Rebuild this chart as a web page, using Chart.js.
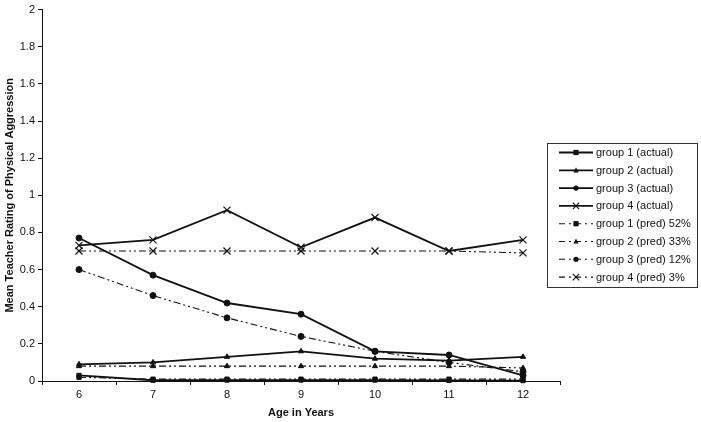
<!DOCTYPE html>
<html>
<head>
<meta charset="utf-8">
<script src="https://cdn.jsdelivr.net/npm/chart.js@4/dist/chart.umd.min.js"></script>
<style>
html, body { margin: 0; background: #fff; }
canvas { display: block; }
</style>
</head>
<body>
<canvas id="aggChart" width="701" height="422"></canvas>
<script>
// ages on the x axis
const ages = ["6", "7", "8", "9", "10", "11", "12"]

// observed group means
const g1Actual = [0.03, 0.004, 0.005, 0.005, 0.005, 0.003, 0.002]
const g2Actual = [0.09, 0.10, 0.13, 0.16, 0.12, 0.11, 0.13]
const g3Actual = [0.77, 0.57, 0.42, 0.36, 0.16, 0.14, 0.03]
const g4Actual = [0.73, 0.76, 0.92, 0.72, 0.88, 0.70, 0.76]

// model predicted trajectories
const g1Pred = [0.02, 0.01, 0.01, 0.01, 0.01, 0.01, 0.01]
const g2Pred = [0.08, 0.08, 0.08, 0.08, 0.08, 0.08, 0.07]
const g3Pred = [0.60, 0.46, 0.34, 0.24, 0.16, 0.10, 0.05]
const g4Pred = [0.70, 0.70, 0.70, 0.70, 0.70, 0.70, 0.69]

const seriesNames = [
    "group 1 (actual)", "group 2 (actual)", "group 3 (actual)", "group 4 (actual)",
    "group 1 (pred) 52%", "group 2 (pred) 33%", "group 3 (pred) 12%", "group 4 (pred) 3%"
]

const FONT = "'Liberation Sans', Arial, sans-serif"
const INK = "#111"
const PRED_DASH = [7, 3, 2, 3, 2, 3]

function makeSet(label, data, marker, pred) {
    return {
        label,
        data,
        borderColor: INK,
        backgroundColor: INK,
        borderWidth: pred ? 1.1 : 1.8,
        borderDash: pred ? PRED_DASH : [],
        pointStyle: marker,
        pointRadius: marker === "crossRot" ? 5 : 3,
        pointBorderColor: INK,
        pointBackgroundColor: INK,
        pointBorderWidth: marker === "crossRot" ? 1.2 : 1,
        tension: 0,
        clip: false
    }
}

const datasets = [
    makeSet(seriesNames[0], g1Actual, "rect", false),
    makeSet(seriesNames[1], g2Actual, "triangle", false),
    makeSet(seriesNames[2], g3Actual, "circle", false),
    makeSet(seriesNames[3], g4Actual, "crossRot", false),
    makeSet(seriesNames[4], g1Pred, "rect", true),
    makeSet(seriesNames[5], g2Pred, "triangle", true),
    makeSet(seriesNames[6], g3Pred, "circle", true),
    makeSet(seriesNames[7], g4Pred, "crossRot", true)
]

function drawMarker(ctx, style, x, y, r) {
    ctx.save()
    ctx.setLineDash([])
    ctx.fillStyle = INK
    ctx.strokeStyle = INK
    ctx.lineWidth = 1.1
    ctx.beginPath()
    if (style === "rect") {
        ctx.rect(x - r, y - r, r * 2, r * 2)
        ctx.fill()
    } else if (style === "triangle") {
        ctx.moveTo(x, y - r - 0.5)
        ctx.lineTo(x + r, y + r * 0.8)
        ctx.lineTo(x - r, y + r * 0.8)
        ctx.closePath()
        ctx.fill()
    } else if (style === "circle") {
        ctx.arc(x, y, r, 0, Math.PI * 2)
        ctx.fill()
    } else {
        const d = 3.2
        ctx.moveTo(x - d, y - d); ctx.lineTo(x + d, y + d)
        ctx.moveTo(x + d, y - d); ctx.lineTo(x - d, y + d)
        ctx.stroke()
    }
    ctx.restore()
}

// excel style boxed legend drawn at the right
const boxLegend = {
    id: "boxLegend",
    afterDraw(chart) {
        const ctx = chart.ctx
        const left = 547, top = 143, right = 697, bottom = 287
        ctx.save()
        ctx.strokeStyle = "#333"
        ctx.lineWidth = 1
        ctx.strokeRect(left + 0.5, top + 0.5, right - left, bottom - top)
        ctx.font = "11px " + FONT
        ctx.textBaseline = "middle"
        ctx.fillStyle = INK
        chart.data.datasets.forEach((ds, i) => {
            const y = 152.5 + i * 17.8
            ctx.save()
            ctx.strokeStyle = INK
            ctx.lineWidth = ds.borderWidth
            ctx.setLineDash(ds.borderDash.length ? [6, 4, 2, 4] : [])
            ctx.beginPath()
            ctx.moveTo(559, y)
            ctx.lineTo(593, y)
            ctx.stroke()
            ctx.restore()
            drawMarker(ctx, ds.pointStyle, 576, y, 2.6)
            ctx.fillText(ds.label, 596, y + 0.5)
        })
        ctx.restore()
    }
}

const ctx = document.getElementById("aggChart").getContext("2d")
new Chart(ctx, {
    type: "line",
    data: { labels: ages, datasets },
    options: {
        responsive: false,
        animation: false,
        layout: { padding: { top: 7, right: 141, left: 0, bottom: 0 } },
        plugins: {
            legend: { display: false },
            tooltip: { enabled: false }
        },
        scales: {
            x: {
                type: "category",
                offset: true,
                afterFit: s => { s.height = 41 },
                grid: { offset: true, drawOnChartArea: false, tickLength: 4, color: INK },
                border: { color: INK, width: 1 },
                ticks: { color: INK, padding: 3, font: { family: FONT, size: 11 } },
                title: {
                    display: true,
                    text: "Age in Years",
                    color: INK,
                    padding: { top: 0, bottom: 2 },
                    font: { family: FONT, size: 11, weight: "bold" }
                }
            },
            y: {
                min: 0,
                max: 2,
                afterFit: s => { s.width = 42 },
                grid: { drawOnChartArea: false, tickLength: 4, color: INK },
                border: { color: INK, width: 1 },
                ticks: {
                    stepSize: 0.2,
                    color: INK,
                    padding: 3,
                    font: { family: FONT, size: 11 },
                    callback: v => String(Number(v.toFixed(1)))
                },
                title: {
                    display: true,
                    text: "Mean Teacher Rating of Physical Aggression",
                    color: INK,
                    padding: { top: 3, bottom: 0 },
                    font: { family: FONT, size: 11, weight: "bold" }
                }
            }
        }
    },
    plugins: [boxLegend]
})
</script>
</body>
</html>
